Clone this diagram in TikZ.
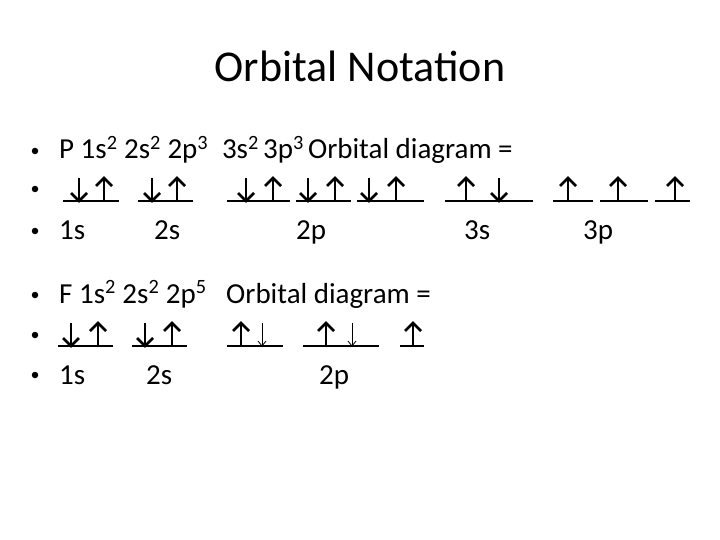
\documentclass[tikz,border=0pt]{standalone}
\usepackage{fontspec}
\setmainfont{Carlito}
\begin{document}
\begin{tikzpicture}[x=1pt,y=-1pt,
  txt/.style={anchor=base west,inner sep=0pt,font=\fontsize{29}{33}\selectfont},
  bul/.style={circle,fill=black,inner sep=0pt,minimum size=6.5pt},
  ttl/.style={anchor=base,inner sep=0pt,font=\fontsize{44}{50}\selectfont},
  uline/.style={line width=2.6pt,line cap=butt},
  arr/.style={line width=2.6pt,line cap=butt,line join=miter},
  thinarr/.style={line width=0.8pt,line cap=butt,line join=miter}]
\useasboundingbox[fill=white] (0,0) rectangle (720,540);
\newcommand\upA[2]{\draw[arr] (#1,#2) -- (#1,#2-23);
  \draw[arr] (#1-8,#2-15) -- (#1,#2-23) -- (#1+8,#2-15);}
\newcommand\dnA[2]{\draw[arr] (#1,#2-23) -- (#1,#2);
  \draw[arr] (#1-8,#2-8) -- (#1,#2) -- (#1+8,#2-8);}
\newcommand\dnThin[2]{\draw[thinarr] (#1,#2-23) -- (#1,#2);
  \draw[thinarr] (#1-4,#2-5) -- (#1,#2) -- (#1+4,#2-5);}
% title
\node[ttl] (title) at (360,82) {Orbital Notation};
% bullets
\foreach \n/\y in {b1/151,b2/189,b3/231,b4/295,b5/335,b6/375}
  \node[bul] (\n) at (35,\y) {};
% line 1
\node[txt] (l1) at (59,159) {P 1s\textsuperscript{2} 2s\textsuperscript{2} 2p\textsuperscript{3}\hspace{0.25em} 3s\textsuperscript{2}\hspace{-0.08em} 3p\textsuperscript{3}\hspace{-0.08em} Orbital diagram =};
% line 2 underlines
\foreach \a/\b in {63/119,138/193,227/290,296/351,357/424,445/533,553/593,600/648,655/690}
  \draw[uline] (\a,201) -- (\b,201);
\dnA{79}{201}\upA{104}{201}
\dnA{152}{201}\upA{177}{201}
\dnA{246}{201}\upA{273}{201}
\dnA{308}{201}\upA{335}{201}
\dnA{369}{201}\upA{396}{201}
\upA{466}{201}\dnA{499}{201}
\upA{568}{201}\upA{618}{201}\upA{675}{201}
% line 3
\node[txt] (s1) at (59,240) {1s};
\node[txt] (s2) at (154,240) {2s};
\node[txt] (s3) at (296,240) {2p};
\node[txt] (s4) at (464,240) {3s};
\node[txt] (s5) at (583,240) {3p};
% line 4
\node[txt] (f0) at (59,303) {F 1s\textsuperscript{2} 2s\textsuperscript{2} 2p\textsuperscript{5}};
\node[txt] (f4) at (226,303) {Orbital diagram =};
% line 5
\foreach \a/\b in {58/113,132/187,227/283,303/379,400/424}
  \draw[uline] (\a,346) -- (\b,346);
\dnA{71}{346}\upA{98}{346}
\dnA{145}{346}\upA{172}{346}
\upA{241}{346}\dnThin{262}{346}
\upA{326}{346}\dnThin{352}{346}
\upA{413}{346}
% line 6
\node[txt] (g1) at (59,384) {1s};
\node[txt] (g2) at (146,384) {2s};
\node[txt] (g3) at (319,384) {2p};
\end{tikzpicture}
\end{document}
